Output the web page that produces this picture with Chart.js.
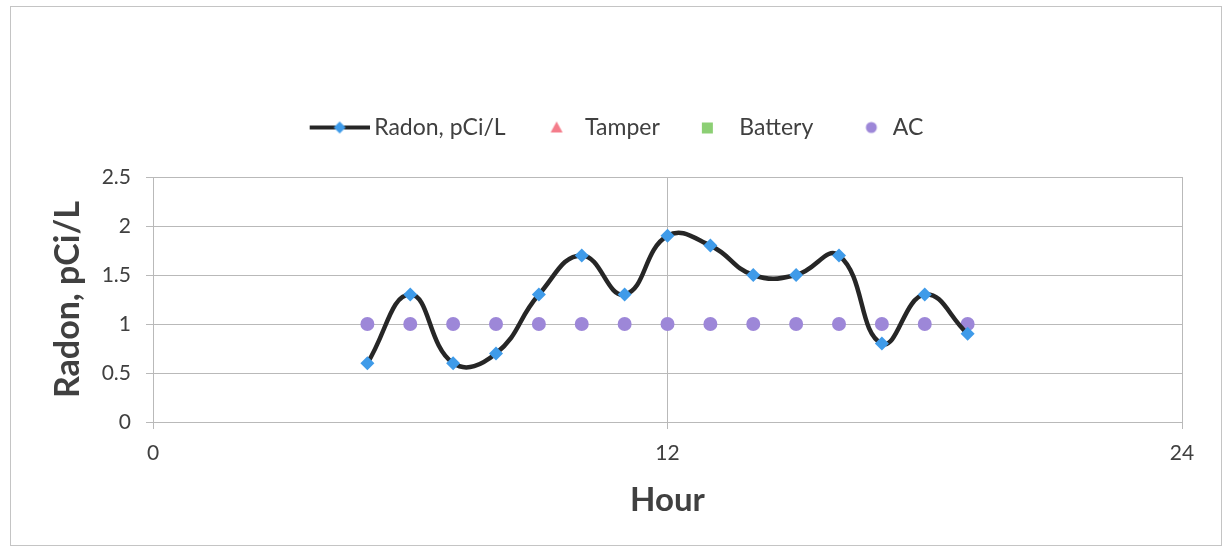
<!DOCTYPE html>
<html>
<head>
<meta charset="utf-8">
<title>Radon</title>
<script src="https://cdn.jsdelivr.net/npm/chart.js@4.4.0/dist/chart.umd.min.js"></script>
<style>
  html, body { margin: 0; padding: 0; background: #fff; }
  #wrap { width: 1225px; height: 548px; position: relative; }
</style>
</head>
<body>
<div id="wrap"><canvas id="chart"></canvas></div>
<script>
// hours of the readings
const hours = [5, 6, 7, 8, 9, 10, 11, 12, 13, 14, 15, 16, 17, 18, 19];
// radon, pCi/L
const radon = [0.6, 1.3, 0.6, 0.7, 1.3, 1.7, 1.3, 1.9, 1.8, 1.5, 1.5, 1.7, 0.8, 1.3, 0.9];
// AC flag (1 = on)
const ac = [1, 1, 1, 1, 1, 1, 1, 1, 1, 1, 1, 1, 1, 1, 1];
// no tamper / battery events
const tamper = [];
const battery = [];

const seriesNames = ['Radon, pCi/L', 'Tamper', 'Battery', 'AC'];
const xTicks = [0, 12, 24];
const yTicks = [0, 0.5, 1, 1.5, 2, 2.5];

const colors = {
  line: '#262626',
  diamond: '#3f9be9',
  tamper: '#f47c8a',
  battery: '#8ccf74',
  ac: '#9d87d8',
  grid: '#b9b9b9',
  text: '#404040'
};

const FONT = 'Lato, "Open Sans", sans-serif';

function toPoints(xs, ys) {
  return ys.map((y, i) => ({ x: xs[i], y: y }));
}

// іконки для легенди (лінія з маркером як в Excel)
// картинка ширша за pointStyleWidth, щоб лінія підходила ближче до тексту
function makeIcon(kind) {
  const c = document.createElement('canvas');
  c.width = 70;
  c.height = 24;
  const g = c.getContext('2d');
  const cy = 12;
  if (kind === 'radon') {
    g.strokeStyle = colors.line;
    g.lineWidth = 4;
    g.beginPath();
    g.moveTo(10, cy);
    g.lineTo(70, cy);
    g.stroke();
    g.fillStyle = colors.diamond;
    g.beginPath();
    g.moveTo(40, cy - 6); g.lineTo(46, cy); g.lineTo(40, cy + 6); g.lineTo(34, cy);
    g.closePath();
    g.fill();
  } else if (kind === 'tamper') {
    g.fillStyle = colors.tamper;
    g.beginPath();
    g.moveTo(46, cy - 6); g.lineTo(52, cy + 5); g.lineTo(40, cy + 5);
    g.closePath();
    g.fill();
  } else if (kind === 'battery') {
    g.fillStyle = colors.battery;
    g.fillRect(37, cy - 5, 11, 11);
  } else {
    g.fillStyle = colors.ac;
    g.beginPath();
    g.arc(53, cy, 5.5, 0, Math.PI * 2);
    g.fill();
  }
  return c;
}

const icons = [makeIcon('radon'), makeIcon('tamper'), makeIcon('battery'), makeIcon('ac')];

// рамка навколо діаграми
const frame = {
  id: 'frame',
  beforeDraw(chart) {
    const c = chart.ctx;
    c.save();
    c.fillStyle = '#fff';
    c.fillRect(0, 0, chart.width, chart.height);
    c.strokeStyle = '#c4c4c4';
    c.lineWidth = 1;
    c.strokeRect(10.5, 6.5, 1211, 539);
    c.restore();
  }
};

// додатковий відступ між легендою і графіком
const legendGap = {
  id: 'legendGap',
  afterInit(chart) {
    const fit = chart.legend.fit;
    chart.legend.fit = function () {
      fit.call(this);
      this.height += 28;
    };
  }
};

new Chart(document.getElementById('chart'), {
  type: 'line',
  data: {
    datasets: [
      {
        label: seriesNames[0],
        data: toPoints(hours, radon),
        borderColor: colors.line,
        borderWidth: 4.5,
        tension: 0.45,
        pointStyle: 'rectRot',
        pointRadius: 7,
        pointBackgroundColor: colors.diamond,
        pointBorderWidth: 0,
        fill: false
      },
      {
        label: seriesNames[1],
        data: tamper,
        showLine: false,
        pointStyle: 'triangle',
        pointBackgroundColor: colors.tamper
      },
      {
        label: seriesNames[2],
        data: battery,
        showLine: false,
        pointStyle: 'rect',
        pointBackgroundColor: colors.battery
      },
      {
        label: seriesNames[3],
        data: toPoints(hours, ac),
        showLine: false,
        pointStyle: 'circle',
        pointRadius: 7,
        pointBorderWidth: 0,
        pointBackgroundColor: colors.ac
      }
    ]
  },
  options: {
    responsive: true,
    maintainAspectRatio: false,
    animation: false,
    layout: { padding: { left: 48, right: 43, top: 104, bottom: 28 } },
    plugins: {
      tooltip: { enabled: false },
      legend: {
        position: 'top',
        labels: {
          usePointStyle: true,
          pointStyleWidth: 56,
          padding: 12,
          color: colors.text,
          font: { family: FONT, size: 23 },
          generateLabels(chart) {
            return chart.data.datasets.map((ds, i) => ({
              text: ds.label,
              pointStyle: icons[i],
              fillStyle: 'transparent',
              strokeStyle: 'transparent',
              lineWidth: 0,
              hidden: false,
              fontColor: colors.text,
              datasetIndex: i
            }));
          }
        }
      }
    },
    scales: {
      x: {
        type: 'linear',
        min: 0,
        max: 24,
        afterBuildTicks: s => { s.ticks = xTicks.map(v => ({ value: v })); },
        afterFit: s => { s.height = 98; },
        grid: { color: colors.grid, tickLength: 7, tickColor: colors.grid },
        border: { color: colors.grid },
        ticks: {
          color: colors.text,
          padding: 12,
          maxRotation: 0,
          callback: v => String(v),
          font: { family: FONT, size: 21 }
        },
        title: {
          display: true,
          text: 'Hour',
          color: colors.text,
          padding: 0,
          font: { family: FONT, size: 33, weight: 'bold' }
        }
      },
      y: {
        min: 0,
        max: 2.5,
        afterBuildTicks: s => { s.ticks = yTicks.map(v => ({ value: v })); },
        afterFit: s => { s.width = 105; },
        grid: { color: colors.grid, tickLength: 7, tickColor: colors.grid },
        border: { color: colors.grid },
        ticks: {
          color: colors.text,
          padding: 15,
          callback: v => String(v),
          font: { family: FONT, size: 21 }
        },
        title: {
          display: true,
          text: 'Radon, pCi/L',
          color: colors.text,
          padding: 0,
          font: { family: FONT, size: 34, weight: 'bold' }
        }
      }
    }
  },
  plugins: [frame, legendGap]
});
</script>
</body>
</html>
